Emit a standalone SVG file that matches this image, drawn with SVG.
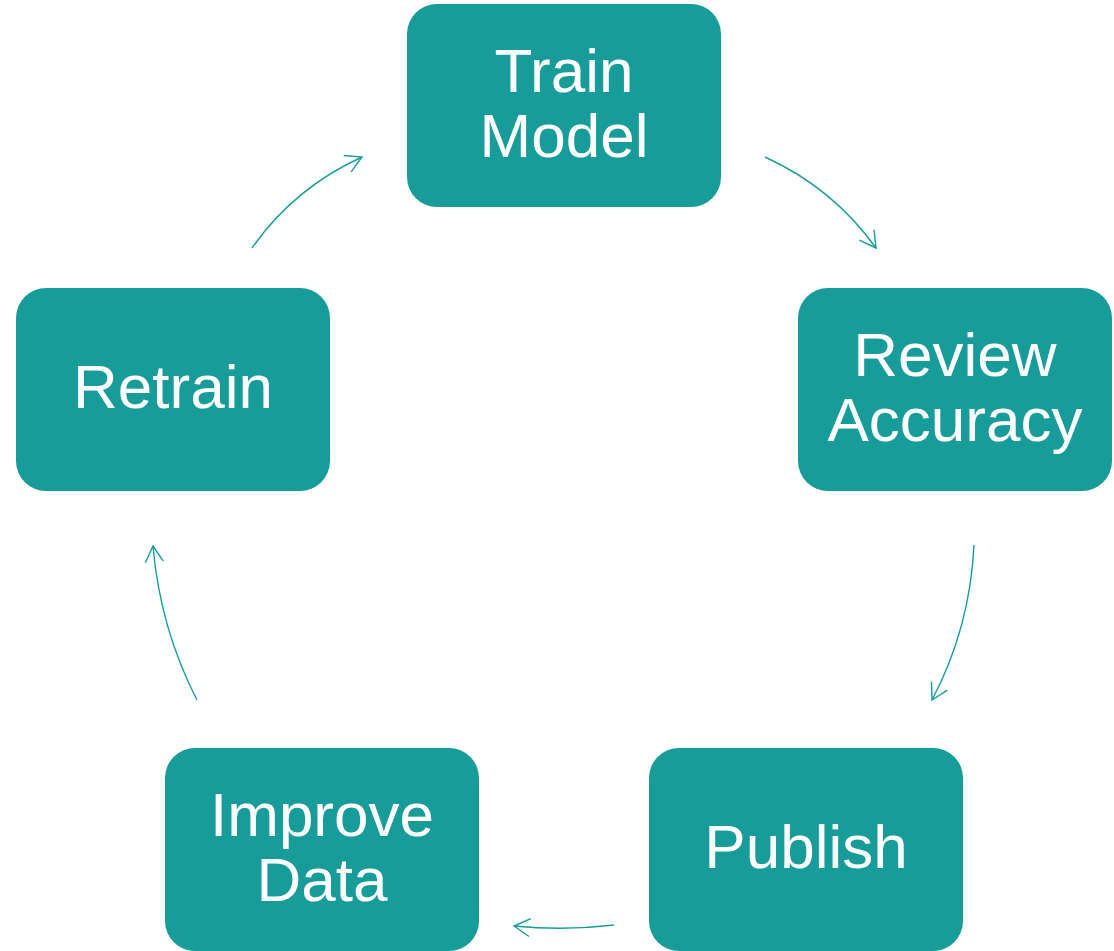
<svg xmlns="http://www.w3.org/2000/svg" width="1114" height="951" viewBox="0 0 1114 951">
<defs>
<style>
.node rect{fill:#189c9a;}
.node text{fill:#ffffff;font-family:"Liberation Sans",Arial,Helvetica,sans-serif;font-size:62px;text-anchor:middle;}
.conn path{fill:none;stroke:#189c9a;stroke-width:1.4;marker-end:url(#arr);}
</style>
<marker id="arr" markerUnits="userSpaceOnUse" viewBox="0 0 20 20" markerWidth="20" markerHeight="20" refX="18" refY="10" orient="auto">
<path d="M2,1 L18,10 L2,19" fill="none" stroke="#189c9a" stroke-width="1.4"/>
</marker>
</defs>
<rect width="1114" height="951" fill="#ffffff"/>
<g class="conn">
<path d="M252,248 Q294,188 362,157"/>
<path d="M765,157 Q833,188 876,248"/>
<path d="M974,545 Q970,628 932,700"/>
<path d="M614,925 Q564,931 514,926"/>
<path d="M197,700 Q160,628 153,546"/>
</g>
<g id="train" class="node"><rect x="407" y="4" width="314" height="203" rx="30"/><text x="564" y="92">Train</text><text x="564" y="157">Model</text></g>
<g id="review" class="node"><rect x="798" y="288" width="314" height="203" rx="30"/><text x="955" y="376">Review</text><text x="955" y="441">Accuracy</text></g>
<g id="publish" class="node"><rect x="649" y="748" width="314" height="203" rx="30"/><text x="806" y="868">Publish</text></g>
<g id="improve" class="node"><rect x="165" y="748" width="314" height="203" rx="30"/><text x="322" y="836">Improve</text><text x="322" y="901">Data</text></g>
<g id="retrain" class="node"><rect x="16" y="288" width="314" height="203" rx="30"/><text x="173" y="408">Retrain</text></g>
</svg>
